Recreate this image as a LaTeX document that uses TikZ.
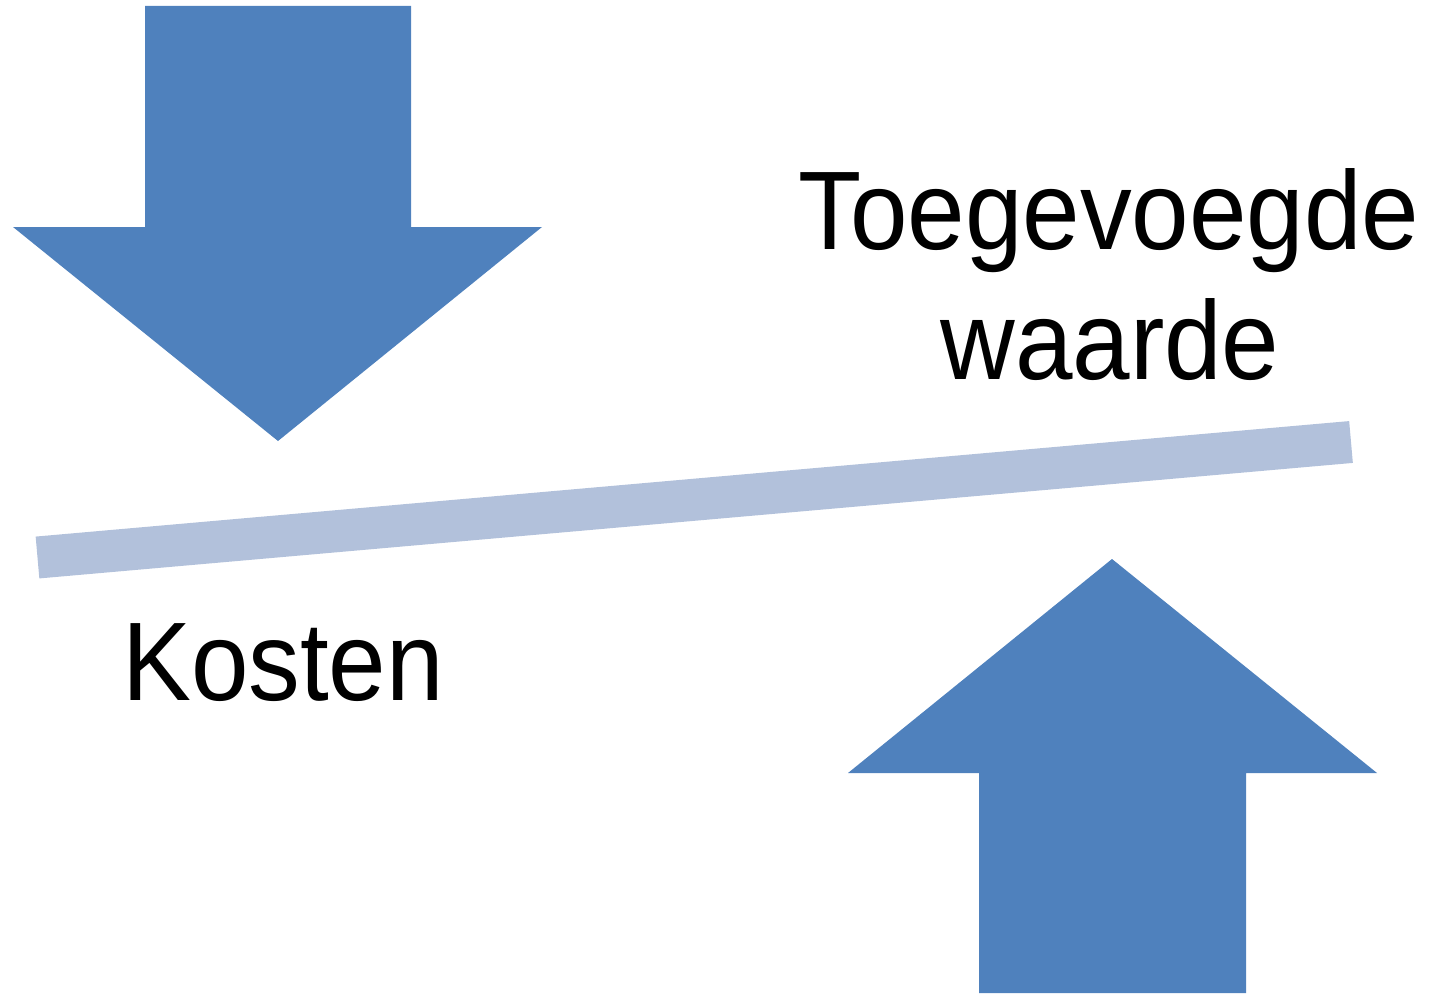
\documentclass[tikz,border=0pt]{standalone}
\usepackage{fontspec}
\setmainfont{Liberation Sans}
\definecolor{arrowblue}{HTML}{4F81BD}
\definecolor{barblue}{HTML}{B2C1DB}

\begin{document}
\begin{tikzpicture}
  [every node/.style={font=\fontsize{31.8}{36}\selectfont,xscale=.925,inner sep=0pt},
   bigarrow/.style={fill=arrowblue},
   balance/.style={draw=barblue,line width=.42cm}]
  \useasboundingbox (0,0) rectangle (14.29,9.95);

  % kosten omlaag
  \path[bigarrow] (1.45,9.89) -- (4.11,9.89) -- (4.11,7.68) -- (5.42,7.68)
      -- (2.78,5.54) -- (0.13,7.68) -- (1.45,7.68) -- cycle;
  % waarde omhoog
  \path[bigarrow] (9.79,0.02) -- (12.46,0.02) -- (12.46,2.22) -- (13.77,2.22)
      -- (11.12,4.36) -- (8.48,2.22) -- (9.79,2.22) -- cycle;

  \coordinate (left) at (0.375,4.375);
  \coordinate (right) at (13.51,5.53);
  \draw[balance] (left) -- (right);

  \node[anchor=base] (toeg)   at (11.09,7.46) {Toegevoegde};
  \node[anchor=base] (waarde) at (11.10,6.16) {waarde};
  \node[anchor=base] (kosten) at (2.83,2.95)  {Kosten};
\end{tikzpicture}
\end{document}
